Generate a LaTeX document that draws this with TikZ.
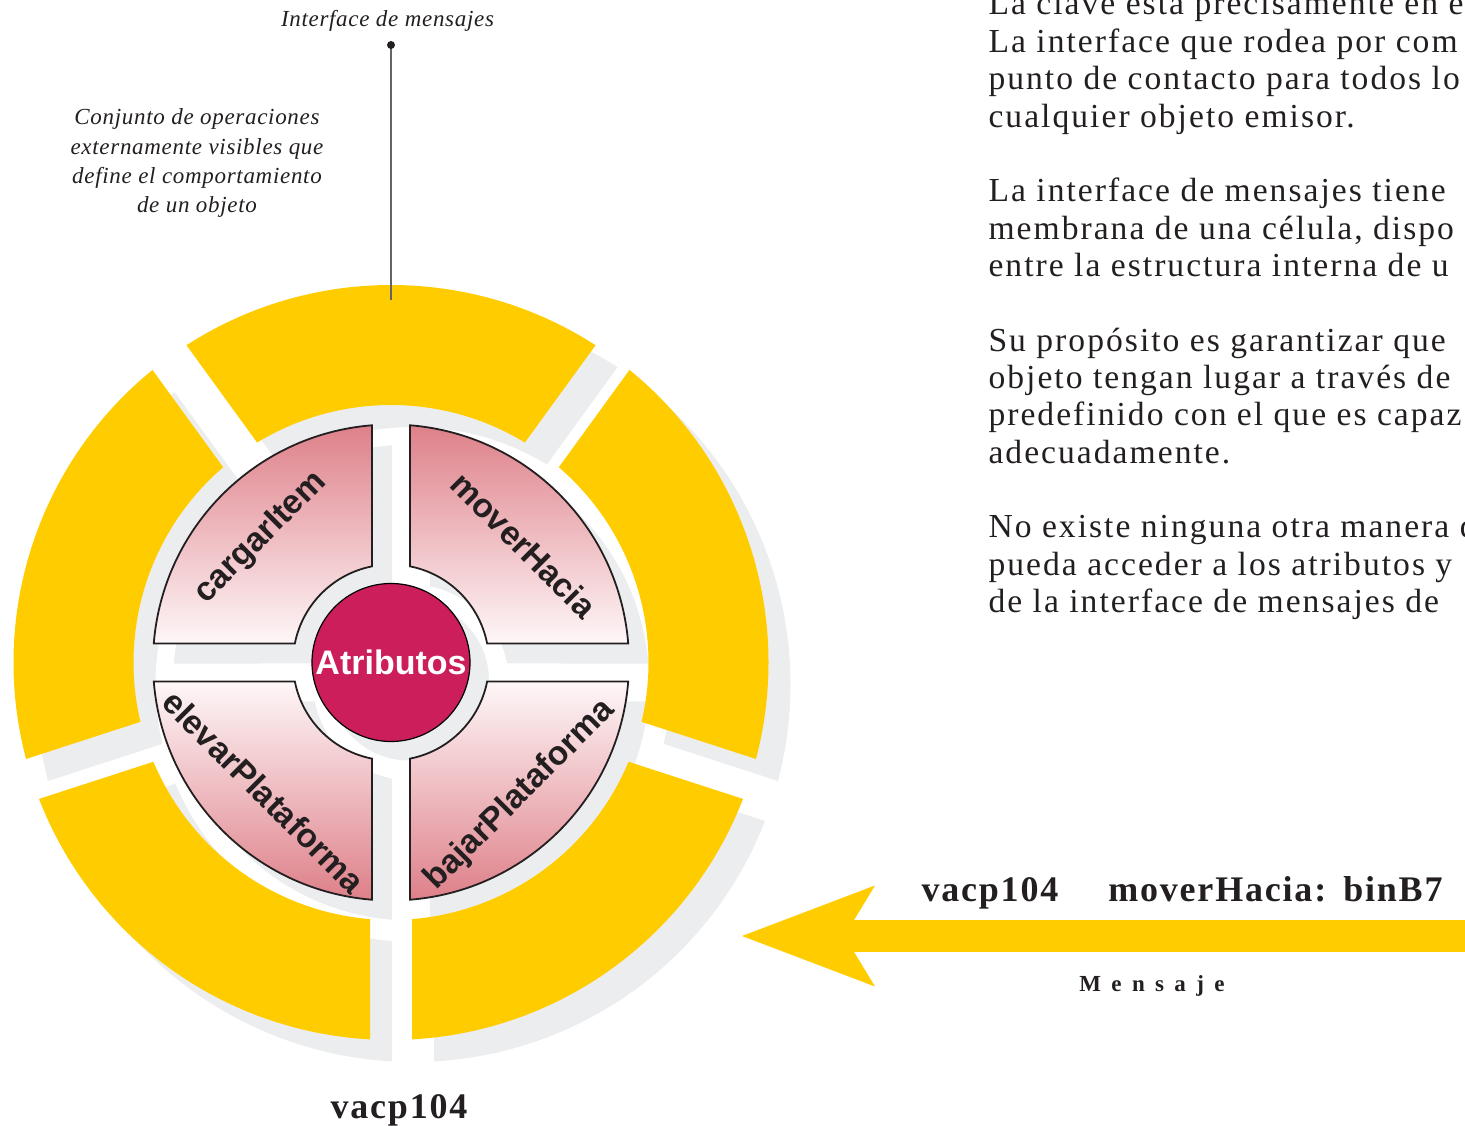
\documentclass[tikz,border=0pt]{standalone}
\usepackage{fontspec}
\setmainfont{Liberation Serif}
\newfontfamily\bodyfont[LetterSpace=6]{Liberation Serif}
\newfontfamily\notefont[LetterSpace=3]{Liberation Serif}
\newfontfamily\namefont[LetterSpace=5]{Liberation Serif}
\newfontfamily\spacedfont[LetterSpace=45]{Liberation Serif}
\newfontfamily\opfont{Liberation Sans}
\usetikzlibrary{arrows.meta}

\definecolor{ringyellow}{RGB}{255,204,0}
\definecolor{shadowgrey}{RGB}{236,237,239}
\definecolor{attrred}{RGB}{204,30,90}
\definecolor{opdark}{RGB}{222,128,137}
\definecolor{oplight}{RGB}{254,247,248}
\definecolor{inkgrey}{RGB}{35,31,32}
\definecolor{leadgrey}{RGB}{100,100,102}

% piece of a ring: start angle, end angle, inner radius, outer radius, half gap
\newcommand{\ringpiece}[5]{({#1+asin(#5/#4)}:#4) arc[start angle={#1+asin(#5/#4)}, end angle={#2-asin(#5/#4)}, radius=#4] -- ({#2-asin(#5/#3)}:#3) arc[start angle={#2-asin(#5/#3)}, end angle={#1+asin(#5/#3)}, radius=#3] -- cycle}

\begin{document}
\begin{tikzpicture}[x=1pt,y=1pt,
  opedge/.style={draw=inkgrey, line width=1.8pt},
  oplabel/.style={font=\opfont\bfseries\fontsize{33.5}{40}\selectfont, text=inkgrey},
  notetext/.style={font=\notefont\itshape\fontsize{23}{28}\selectfont, text=inkgrey},
  bodytext/.style={font=\bodyfont\fontsize{33.6}{40}\selectfont, text=inkgrey},
  nametext/.style={font=\namefont\bfseries\fontsize{36}{42}\selectfont, text=inkgrey},
  spacedtext/.style={font=\spacedfont\bfseries\fontsize{23}{27}\selectfont, text=inkgrey}]
\useasboundingbox (0,0) rectangle (1465,1125);
\clip (0,0) rectangle (1465,1125);

% the object
\begin{scope}[shift={(391,462.5)}]
% shadows
\foreach \a in {54,126,198,270,342}
  \fill[shadowgrey, shift={(22,-22)}] \ringpiece{\a}{\a+72}{257.5}{377.5}{21};
\foreach \a in {0,90,180,270}
  \fill[shadowgrey, shift={(20,-20)}] \ringpiece{\a}{\a+90}{98}{238}{19};
\fill[shadowgrey] (18,-18) circle (80);
% message interface
\foreach \a in {54,126,198,270,342}
  \fill[ringyellow] \ringpiece{\a}{\a+72}{257.5}{377.5}{21};
% operations
\foreach \a in {0,90}
  \draw[opedge, top color=opdark, bottom color=oplight] \ringpiece{\a}{\a+90}{98}{238}{19};
\foreach \a in {180,270}
  \draw[opedge, top color=oplight, bottom color=opdark] \ringpiece{\a}{\a+90}{98}{238}{19};
\end{scope}

\node[circle, draw=black, line width=1.2pt, fill=attrred, minimum size=158pt, inner sep=0pt,
  text=white, font=\opfont\bfseries\fontsize{34}{40}\selectfont] (attr) at (391,462.5) {Atributos};

\node[oplabel, rotate=45] (cargar) at (261,587) {cargarItem};
\node[oplabel, rotate=-45] (mover) at (524,580) {moverHacia};
\node[oplabel, rotate=-45] (elevar) at (264,333) {elevarPlataforma};
\node[oplabel, rotate=45] (bajar) at (520,330) {bajarPlataforma};

% callout
\coordinate (ifdot) at (391,1080);
\coordinate (ifend) at (391,825);
\draw[leadgrey, line width=1.5pt] (ifdot) -- (ifend);
\fill[inkgrey] (ifdot) circle (4);
\node[notetext, anchor=base] (iftitle) at (387.5,1098) {Interface de mensajes};
\foreach \txt [count=\i] in {Conjunto de operaciones, externamente visibles que, define el comportamiento, de un objeto}
  \node[notetext, anchor=base] (note\i) at (197,{1000-29.3*(\i-1)}) {\txt};

% text
\foreach \k/\txt in {0/La clave está precisamente en e, 1/La interface que rodea por com,
    2/punto de contacto para todos lo, 3/cualquier objeto emisor.,
    5/La interface de mensajes tiene, 6/{membrana de una célula, dispo}, 7/entre la estructura interna de u,
    9/Su propósito es garantizar que, 10/objeto tengan lugar a través de, 11/predefinido con el que es capaz,
    12/adecuadamente., 14/No existe ninguna otra manera d, 15/pueda acceder a los atributos y,
    16/de la interface de mensajes de}
  \node[bodytext, anchor=base west] (body\k) at (985,{1110-37.35*\k}) {\txt};

\node[nametext, anchor=base] (objname) at (399,7) {vacp104};

% message
\coordinate (msgfrom) at (1490,189);
\coordinate (msgto) at (742,189);
\draw[ringyellow, line width=32pt, -{Stealth[length=133pt, width=101pt, inset=30.6pt, line width=0pt]}] (msgfrom) -- (msgto);
\node[nametext, anchor=base west] (msg) at (918,223) {vacp104\hspace{50pt}moverHacia:\hspace{17pt}binB7};
\node[spacedtext, anchor=base] (msglabel) at (1152,133) {Mensaje};
\end{tikzpicture}
\end{document}
